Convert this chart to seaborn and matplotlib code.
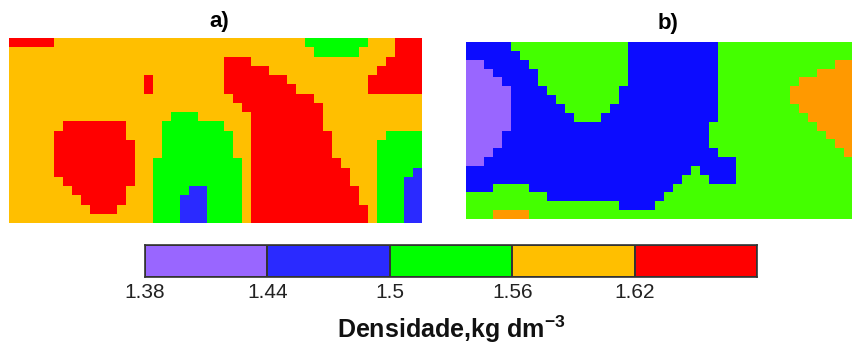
import numpy as np
import matplotlib.pyplot as plt
import seaborn as sns
from matplotlib.colors import ListedColormap

# class limits of soil density (kg dm-3) and the colorbar labels
bounds = [1.38, 1.44, 1.50, 1.56, 1.62, 1.68]
tick_labels = ['1.38', '1.44', '1.5', '1.56', '1.62']
class_letters = ['P', 'B', 'G', 'O', 'R']  # purple, blue, green, orange, red

# map a), one letter per cell (20 rows x 46 cols)
map_a = [
    'RRRRROOOOOOOOOOOOOOOOOOOOOOOOOOOOGGGGGGGOOORRR',
    'OOOOOOOOOOOOOOOOOOOOOOOOOOOOOOOOOOGGGGGOOOORRR',
    'OOOOOOOOOOOOOOOOOOOOOOOORRROOOOOOOOOOOOOOORRRR',
    'OOOOOOOOOOOOOOOOOOOOOOOORRRRROOOOOOOOOOOORRRRR',
    'OOOOOOOOOOOOOOOROOOOOOOORRRRRRROOOOOOOOORRRRRR',
    'OOOOOOOOOOOOOOOROOOOOOOORRRRRRRROOOOOOOORRRRRR',
    'OOOOOOOOOOOOOOOOOOOOOOOOORRRRRRRRROOOOOOOOOOOO',
    'OOOOOOOOOOOOOOOOOOOOOOOOOORRRRRRRRROOOOOOOOOOO',
    'OOOOOOOOOOOOOOOOOOGGGOOOOOORRRRRRRROOOOOOOOOOO',
    'OOOOOORRRRRRROOOOGGGGGGGOOORRRRRRRROOOOOOOOOOO',
    'OOOOORRRRRRRROOOOGGGGGGGGOORRRRRRRRROOOOOOGGGG',
    'OOOOORRRRRRRRROOOGGGGGGGGOORRRRRRRRROOOOOGGGGG',
    'OOOOORRRRRRRRROOOGGGGGGGGOORRRRRRRRROOOOOGGGGG',
    'OOOOORRRRRRRRROOGGGGGGGGGGORRRRRRRRRROOOOGGGGG',
    'OOOOORRRRRRRRROOGGGGGGGGGGORRRRRRRRRRROOOGGGGB',
    'OOOOOORRRRRRRROOGGGGGGGGGGORRRRRRRRRRROOOGGGBB',
    'OOOOOOORRRRRROOOGGGGBBGGGGORRRRRRRRRRRROOGGGBB',
    'OOOOOOOORRRRROOOGGGBBBGGGGORRRRRRRRRRRROOGGGBB',
    'OOOOOOOOORRROOOOGGGBBBGGGGORRRRRRRRRRRRROGGGBB',
    'OOOOOOOOOOOOOOOOGGGBBBGGGGORRRRRRRRRRRRROGGGBB',
]

# map b) (20 rows x 43 cols)
map_b = [
    'BBBBBGGGGGGGGGGGGGBBBBBBBBBBGGGGGGGGGGGGGGG',
    'BBBBBBGGGGGGGGGGGGBBBBBBBBBBGGGGGGGGGGGGGGG',
    'PPBBBBBGGGGGGGGGGGBBBBBBBBBBGGGGGGGGGGGGGOO',
    'PPPBBBBBGGGGGGGGGGBBBBBBBBBBGGGGGGGGGGGOOOO',
    'PPPPBBBBGGGGGGGGGGBBBBBBBBBBGGGGGGGGGOOOOOO',
    'PPPPPBBBBGGGGGGGGBBBBBBBBBBBGGGGGGGGOOOOOOO',
    'PPPPPBBBBBGGGGGGGBBBBBBBBBBBGGGGGGGGOOOOOOO',
    'PPPPPBBBBBBGGGGGBBBBBBBBBBBBGGGGGGGGGOOOOOO',
    'PPPPPBBBBBBBGGGBBBBBBBBBBBBBGGGGGGGGGGOOOOO',
    'PPPPPBBBBBBBBBBBBBBBBBBBBBBGGGGGGGGGGGGOOOO',
    'PPPPBBBBBBBBBBBBBBBBBBBBBBBGGGGGGGGGGGGGOOO',
    'PPPPBBBBBBBBBBBBBBBBBBBBBBBGGGGGGGGGGGGGGOO',
    'PPPBBBBBBBBBBBBBBBBBBBBBBBBBGGGGGGGGGGGGGGO',
    'PPBBBBBBBBBBBBBBBBBBBBBBBBBBBBGGGGGGGGGGGGG',
    'BBBBBBBBBBBBBBBBBBBBBBBBBGBBBBGGGGGGGGGGGGG',
    'BBBBBBBBBBBBBBBBBBBBBBBBGGGBBBGGGGGGGGGGGGG',
    'BBBGGGGBBBBBBBBBBBBBBBBGGGGGGGGGGGGGGGGGGGG',
    'GGGGGGGGGBBBBBBBBBBBBBGGGGGGGGGGGGGGGGGGGGG',
    'GGGGGGGGGGGGGGGGGBBBBGGGGGGGGGGGGGGGGGGGGGG',
    'GGGOOOOGGGGGGGGGGGGGGGGGGGGGGGGGGGGGGGGGGGG',
]

colors_a = ['#9966ff', '#2a2aff', '#00ff00', '#ffbf00', '#ff0000']
colors_b = ['#9966ff', '#0c0cff', '#44ff00', '#ff9900', '#ff0000']

plt.rcParams['font.family'] = ['Liberation Sans', 'DejaVu Sans']
plt.rcParams['mathtext.fontset'] = 'custom'
plt.rcParams['mathtext.rm'] = 'Liberation Sans'
plt.rcParams['mathtext.bf'] = 'Liberation Sans:bold'

mids = [(lo + hi) / 2 for lo, hi in zip(bounds[:-1], bounds[1:])]
letter_value = dict(zip(class_letters, mids))


def to_grid(rows):
    return np.array([[letter_value[c] for c in row] for row in rows])


fig = plt.figure(figsize=(8.53, 3.47), dpi=100)
ax_a = fig.add_axes([9 / 853, 1 - 223 / 347, 413 / 853, 185 / 347])
ax_b = fig.add_axes([466 / 853, 1 - 219 / 347, 387 / 853, 177 / 347])
cax = fig.add_axes([145 / 853, 1 - 277 / 347, 612 / 853, 32 / 347])

for ax, rows, cols in [(ax_a, map_a, colors_a), (ax_b, map_b, colors_b)]:
    sns.heatmap(to_grid(rows), ax=ax, cmap=ListedColormap(cols),
                vmin=bounds[0], vmax=bounds[-1], cbar=False,
                xticklabels=False, yticklabels=False)

fig.text(219 / 853, 1 - 22 / 347, 'a)', ha='center', va='center',
         fontsize=16, fontweight='bold')
fig.text(668 / 853, 1 - 23 / 347, 'b)', ha='center', va='center',
         fontsize=16, fontweight='bold')

# colorbar drawn as a one-row heatmap
sns.heatmap(np.array([mids]), ax=cax, cmap=ListedColormap(colors_a),
            vmin=bounds[0], vmax=bounds[-1], cbar=False,
            linewidths=1.2, linecolor='#333333',
            xticklabels=False, yticklabels=False)
for s in cax.spines.values():
    s.set_visible(True)
    s.set_linewidth(1.2)
    s.set_color('#333333')
cax.set_xticks(range(len(tick_labels)))
cax.set_xticklabels(tick_labels, fontsize=15, rotation=0, color='#222222')
cax.tick_params(axis='x', length=0, pad=4)

fig.text(451 / 853, 1 - 338 / 347, 'Densidade,kg dm$^{\\mathbf{-3}}$',
         ha='center', va='baseline', fontsize=18, fontweight='bold',
         color='#111111')

fig.savefig('out.png', dpi=100)
